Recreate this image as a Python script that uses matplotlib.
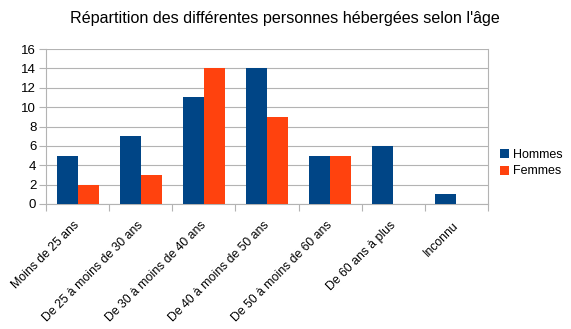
import numpy as np
import matplotlib
matplotlib.use("Agg")
import matplotlib.pyplot as plt
import matplotlib.transforms as mtransforms

categories = ["Moins de 25 ans", "De 25 à moins de 30 ans", "De 30 à moins de 40 ans",
              "De 40 à moins de 50 ans", "De 50 à moins de 60 ans", "De 60 ans à plus", "Inconnu"]
hommes = [5, 7, 11, 14, 5, 6, 1]
femmes = [2, 3, 14, 9, 5, 0, 0]

plt.rcParams['font.family'] = ['Liberation Sans', 'DejaVu Sans']

fig = plt.figure(figsize=(5.71, 3.29), dpi=100)
ax = fig.add_axes([46 / 571, 1 - 204 / 329, 442 / 571, 155 / 329])

x = np.arange(len(categories))
w = 1 / 3
ax.bar(x - w / 2, hommes, w, color='#004586', label='Hommes', zorder=3)
ax.bar(x + w / 2, femmes, w, color='#ff420e', label='Femmes', zorder=3)

ax.set_xlim(-0.5, len(categories) - 0.5)
ax.set_ylim(0, 16)
ax.set_yticks(range(0, 17, 2))
ax.yaxis.grid(True, color='#b3b3b3', linewidth=0.8, zorder=0)

# tick marks between categories, labels centred under each group
ax.set_xticks(np.arange(-0.5, len(categories)), minor=False)
ax.set_xticklabels([])
ax.set_xticks(x, minor=True)
labels = ax.set_xticklabels(categories, minor=True, rotation=45, ha='right',
                            rotation_mode='anchor', fontsize=8.8)
ax.tick_params(axis='x', which='minor', length=0, pad=11)
ax.tick_params(axis='x', which='major', length=5, color='#b3b3b3', width=0.8)
ax.tick_params(axis='y', length=5, color='#b3b3b3', width=0.8, labelsize=9.5, pad=2)
shift = mtransforms.ScaledTranslation(-4 / 100, 0, fig.dpi_scale_trans)
for lab in labels:
    lab.set_transform(lab.get_transform() + shift)

ax.spines['top'].set_visible(False)
for side in ['left', 'bottom', 'right']:
    ax.spines[side].set_color('#b3b3b3')
    ax.spines[side].set_linewidth(0.8)

fig.text(285 / 571, 1 - 18 / 329, "Répartition des différentes personnes hébergées selon l'âge",
         ha='center', va='center', fontsize=11.6)

ax.legend(loc='center left', bbox_to_anchor=(495 / 571, 1 - 163 / 329), bbox_transform=fig.transFigure,
          frameon=False, fontsize=9, handlelength=0.7, handleheight=0.7, handletextpad=0.3,
          labelspacing=0.4, borderaxespad=0)

fig.savefig('out.png', dpi=100)
